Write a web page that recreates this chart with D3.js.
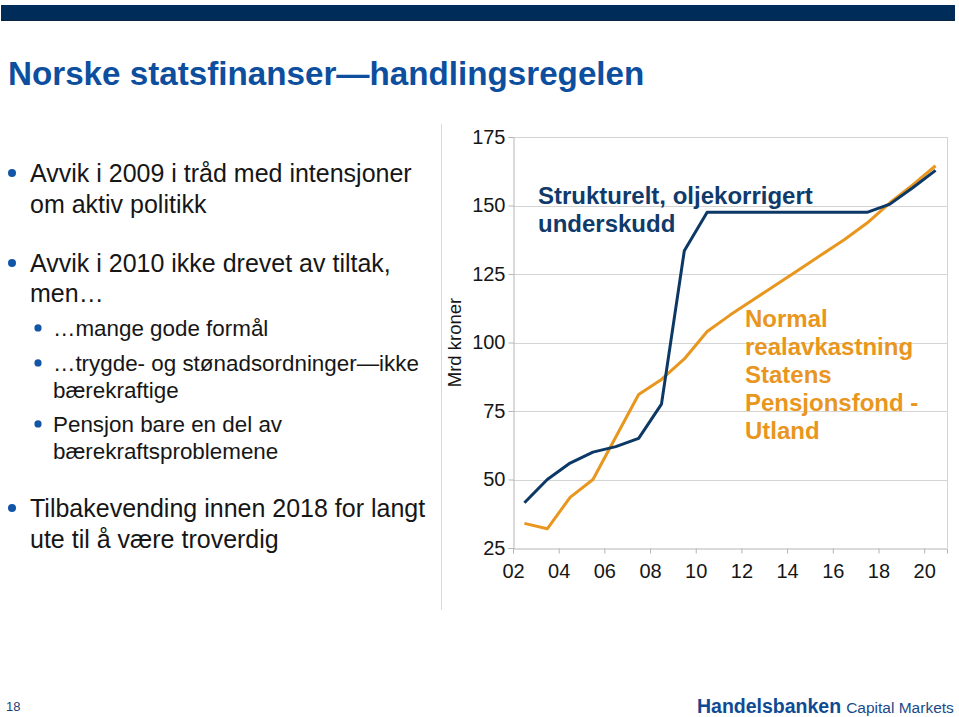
<!DOCTYPE html>
<html><head><meta charset="utf-8">
<script src="https://cdn.jsdelivr.net/npm/d3@7"></script>
<style>
html,body{margin:0;padding:0;background:#fff;}
svg{display:block;font-family:"Liberation Sans",Arial,sans-serif;}
</style></head>
<body>
<svg id="c" width="959" height="717"></svg>
<script>
// ---- data ----
const years = [2002,2003,2004,2005,2006,2007,2008,2009,2010,2011,2012,2013,2014,2015,2016,2017,2018,2019,2020];
const strukturelt = [41.5,50,56,60,62,65,77.5,133.5,147.5,147.5,147.5,147.5,147.5,147.5,147.5,147.5,150.5,156.5,162.8];
const realavkastning = [34,32,43.5,50,65.5,81,86.5,94,104,110,115.5,121,126.5,132,137.5,143.6,151,157.5,164.5];
const yTicks = [25,50,75,100,125,150,175];
const xTickYears = [2002,2004,2006,2008,2010,2012,2014,2016,2018,2020];
const xTickLabels = ["02","04","06","08","10","12","14","16","18","20"];
const title = "Norske statsfinanser\u2014handlingsregelen";
const bullets = [
  {lvl:0, lines:["Avvik i 2009 i tr\u00e5d med intensjoner","om aktiv politikk"], y:[182,213]},
  {lvl:0, lines:["Avvik i 2010 ikke drevet av tiltak,","men\u2026"], y:[272,302]},
  {lvl:1, lines:["\u2026mange gode form\u00e5l"], y:[336]},
  {lvl:1, lines:["\u2026trygde- og st\u00f8nadsordninger\u2014ikke","b\u00e6rekraftige"], y:[371,398]},
  {lvl:1, lines:["Pensjon bare en del av","b\u00e6rekraftsproblemene"], y:[432,459]},
  {lvl:0, lines:["Tilbakevending innen 2018 for langt","ute til \u00e5 v\u00e6re troverdig"], y:[517,548]}
];
const blueLabel = ["Strukturelt, oljekorrigert","underskudd"];
const orangeLabel = ["Normal","realavkastning","Statens","Pensjonsfond -","Utland"];

const BLUE = "#0c3866", ORANGE = "#e8961e", TITLE = "#0d4f9e", DOT = "#1356a8";
const svg = d3.select("#c");

// top bar
svg.append("rect").attr("x",1).attr("y",5).attr("width",954).attr("height",16).attr("fill","#002c5a");
svg.append("line").attr("x1",1).attr("x2",955).attr("y1",20.5).attr("y2",20.5).attr("stroke","#0b2440").attr("stroke-width",1);

// title
svg.append("text").attr("x",8).attr("y",85).attr("fill",TITLE)
  .attr("font-size",33.2).attr("font-weight","bold").text(title);

// bullets
bullets.forEach(b=>{
  const fs = b.lvl===0?25:22.4;
  const tx = b.lvl===0?30:53;
  const dx = b.lvl===0?12:38;
  const r = b.lvl===0?4:3.6;
  svg.append("circle").attr("cx",dx).attr("cy",b.y[0]-fs*0.36).attr("r",r).attr("fill",DOT);
  b.lines.forEach((l,i)=>{
    svg.append("text").attr("x",tx).attr("y",b.y[i]).attr("font-size",fs).attr("fill","#161616").text(l);
  });
});

// separator
svg.append("line").attr("x1",441.5).attr("x2",441.5).attr("y1",124).attr("y2",610).attr("stroke","#d9d9d9");

// chart
const x = d3.scaleLinear().domain([2002,2021]).range([513,947]);
const y = d3.scaleLinear().domain([25,175]).range([548,137]);

const g = svg.append("g");
// gridlines
g.selectAll(".grid").data(yTicks.slice(1)).join("line")
  .attr("x1",x(2002)).attr("x2",x(2021)).attr("y1",d=>Math.round(y(d))+0.5).attr("y2",d=>Math.round(y(d))+0.5)
  .attr("stroke","#d4d4d4");
// right border
g.append("line").attr("x1",x(2021)+0.5).attr("x2",x(2021)+0.5).attr("y1",y(175)).attr("y2",y(25)).attr("stroke","#d4d4d4");

// y axis
const yAxis = d3.axisLeft(y).tickValues(yTicks).tickSize(5).tickPadding(3).tickFormat(d3.format("d"));
const ya = svg.append("g").attr("transform",`translate(${x(2002)+0.5},0)`).call(yAxis);
ya.select(".domain").attr("stroke","#b5b5b5");
ya.selectAll(".tick line").attr("stroke","#b5b5b5");
ya.selectAll("text").attr("font-size",20).attr("fill","#161616").attr("font-family","Liberation Sans, Arial, sans-serif");

// x axis
const xAxis = d3.axisBottom(x).tickValues(xTickYears).tickSize(5).tickPadding(10)
  .tickFormat((d,i)=>xTickLabels[i]);
const xa = svg.append("g").attr("transform",`translate(0,${y(25)+0.5})`).call(xAxis);
xa.select(".domain").attr("stroke","#b5b5b5");
xa.selectAll(".tick line").attr("stroke","#b5b5b5");
xa.selectAll("text").attr("font-size",20).attr("fill","#161616").attr("font-family","Liberation Sans, Arial, sans-serif");

// y label
svg.append("text").attr("transform",`translate(461,${(y(25)+y(175))/2}) rotate(-90)`)
  .attr("text-anchor","middle").attr("font-size",18.5).attr("fill","#161616").text("Mrd kroner");

// lines
const line = d3.line().x((d,i)=>x(years[i]+0.5)).y(d=>y(d));
g.append("path").datum(realavkastning).attr("d",line).attr("fill","none")
  .attr("stroke",ORANGE).attr("stroke-width",3).attr("stroke-linejoin","round");
g.append("path").datum(strukturelt).attr("d",line).attr("fill","none")
  .attr("stroke",BLUE).attr("stroke-width",3).attr("stroke-linejoin","round");

// annotations
blueLabel.forEach((t,i)=>{
  svg.append("text").attr("x",538).attr("y",204+i*28).attr("font-size",24).attr("font-weight","bold")
    .attr("fill","#0f3a6a").text(t);
});
orangeLabel.forEach((t,i)=>{
  svg.append("text").attr("x",745).attr("y",327+i*28).attr("font-size",24).attr("font-weight","bold")
    .attr("fill",ORANGE).text(t);
});

// footer
svg.append("text").attr("x",6).attr("y",711).attr("font-size",13).attr("fill","#1c3f74").text("18");
const ft = svg.append("text").attr("x",697).attr("y",713).attr("fill","#0f4a92");
ft.append("tspan").attr("font-weight","bold").attr("font-size",19.5).text("Handelsbanken");
ft.append("tspan").attr("font-size",15.5).attr("dx",5).attr("fill","#1a4a8a").text("Capital Markets");
</script>
</body></html>
